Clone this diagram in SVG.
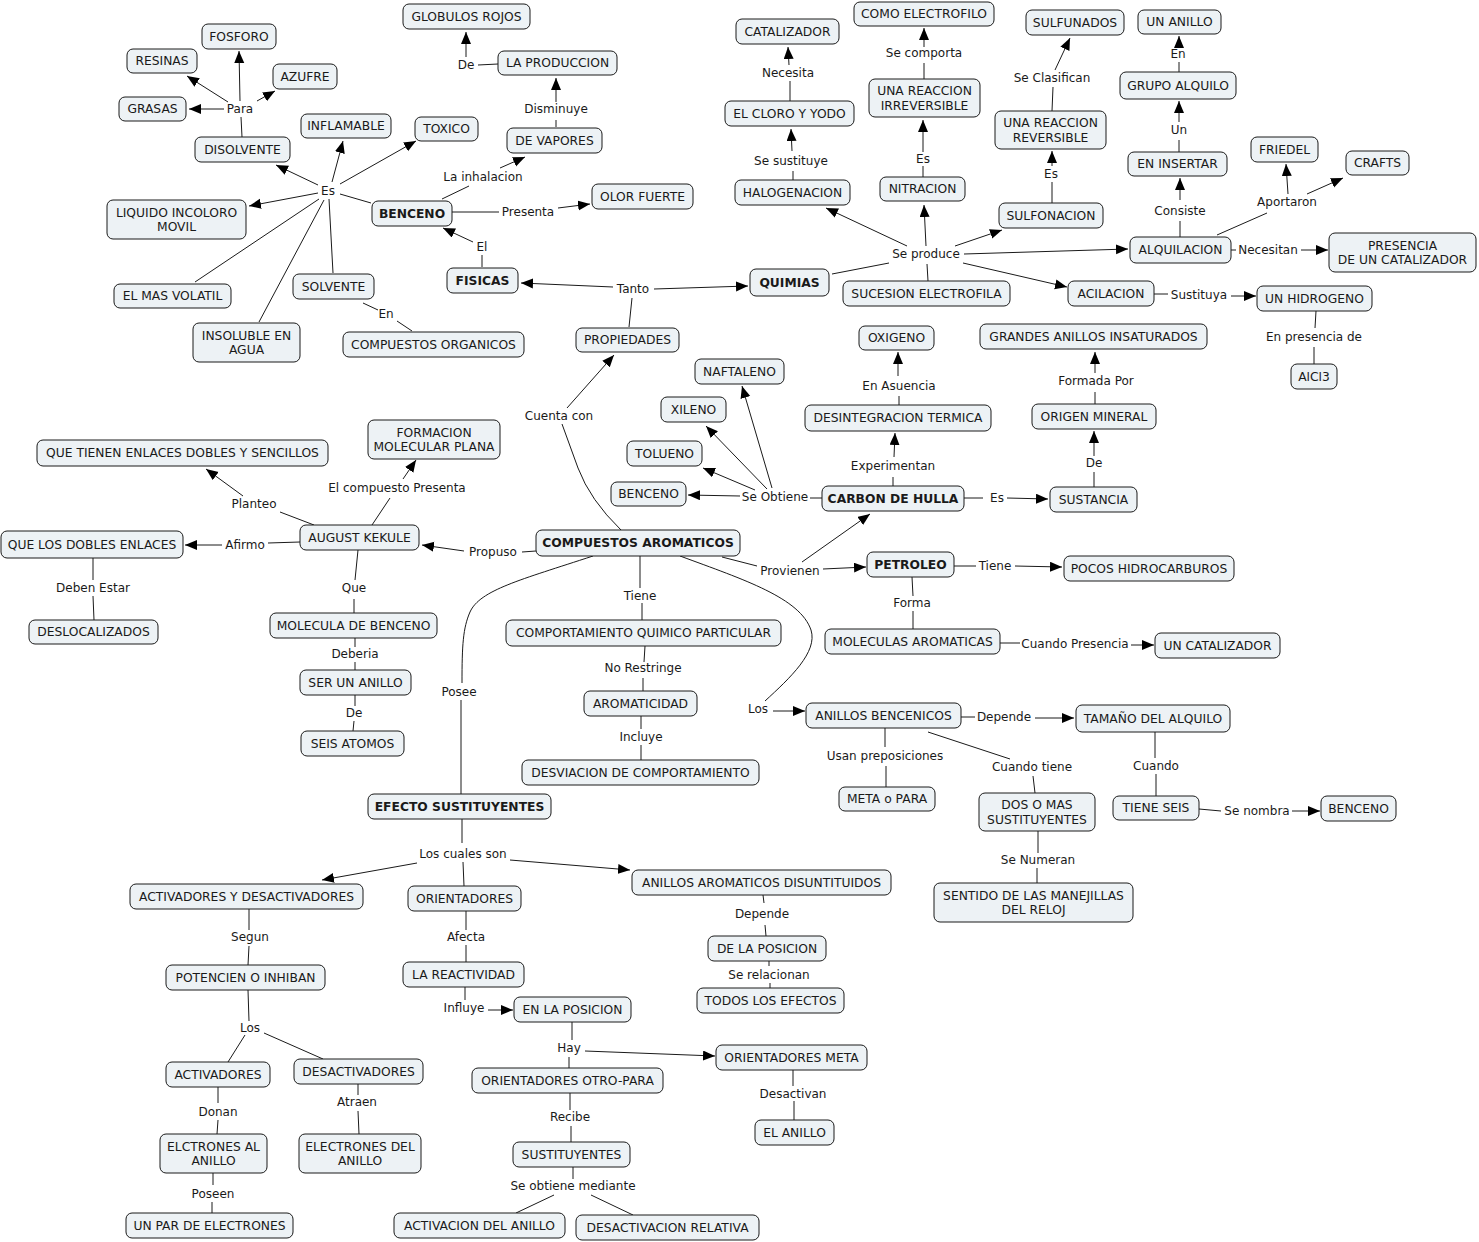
<svg xmlns="http://www.w3.org/2000/svg" width="1479" height="1242" viewBox="0 0 1479 1242">
<style>
.n rect{fill:#edf2f5;stroke:#1a1a1a;stroke-width:1}
text{font-family:"DejaVu Sans","Liberation Sans",sans-serif;font-size:12px;fill:#1a1a1a;text-anchor:middle}
.n text{font-size:12.3px}
.b text{font-weight:bold}
.c line,.c path{stroke:#1a1a1a;stroke-width:1;fill:none}
.c .a{marker-end:url(#ah)}
</style>
<defs>
<marker id="ah" markerUnits="userSpaceOnUse" markerWidth="13" markerHeight="11" refX="12" refY="5" orient="auto"><path d="M0,0 L12,5 L0,10 z" fill="#000"/></marker>
</defs>
<rect width="1479" height="1242" fill="#fff"/>
<g id="connectors" class="c">
<line x1="242" y1="137" x2="241" y2="117"/>
<line class="a" x1="240" y1="101" x2="239" y2="51"/>
<line class="a" x1="228" y1="102" x2="187" y2="76"/>
<line class="a" x1="224" y1="109" x2="189" y2="109"/>
<line class="a" x1="257" y1="101" x2="275" y2="91"/>
<line class="a" x1="318" y1="185" x2="276" y2="165"/>
<line class="a" x1="332" y1="182" x2="343" y2="141"/>
<line class="a" x1="340" y1="184" x2="416" y2="141"/>
<line class="a" x1="318" y1="193" x2="249" y2="206"/>
<line x1="319" y1="199" x2="195" y2="282"/>
<line x1="324" y1="200" x2="259" y2="322"/>
<line x1="329" y1="199" x2="333" y2="273"/>
<line x1="371" y1="203" x2="340" y2="194"/>
<line x1="363" y1="303" x2="378" y2="310"/>
<line x1="397" y1="321" x2="412" y2="331"/>
<line x1="442" y1="199" x2="469" y2="186"/>
<line class="a" x1="500" y1="168" x2="525" y2="157"/>
<line x1="556" y1="127" x2="556" y2="120"/>
<line class="a" x1="556" y1="102" x2="556" y2="78"/>
<line x1="498" y1="64" x2="478" y2="65"/>
<line class="a" x1="466" y1="57" x2="466" y2="32"/>
<line x1="452" y1="212" x2="499" y2="212"/>
<line class="a" x1="558" y1="208" x2="590" y2="204"/>
<line x1="482" y1="267" x2="482" y2="255"/>
<line class="a" x1="473" y1="242" x2="443" y2="228"/>
<line class="a" x1="613" y1="287" x2="521" y2="283"/>
<line class="a" x1="654" y1="289" x2="748" y2="286"/>
<line x1="629" y1="327" x2="632" y2="298"/>
<line x1="832" y1="274" x2="889" y2="263"/>
<line class="a" x1="907" y1="246" x2="826" y2="208"/>
<line class="a" x1="926" y1="246" x2="924" y2="205"/>
<line class="a" x1="955" y1="246" x2="1002" y2="230"/>
<line class="a" x1="964" y1="254" x2="1128" y2="249"/>
<line class="a" x1="963" y1="263" x2="1067" y2="287"/>
<line x1="927" y1="264" x2="928" y2="281"/>
<line x1="793" y1="180" x2="793" y2="171"/>
<line class="a" x1="792" y1="151" x2="791" y2="129"/>
<line x1="790" y1="101" x2="790" y2="81"/>
<line class="a" x1="789" y1="65" x2="788" y2="47"/>
<line x1="923" y1="177" x2="923" y2="166"/>
<line class="a" x1="923" y1="152" x2="923" y2="120"/>
<line x1="924" y1="79" x2="924" y2="63"/>
<line class="a" x1="924" y1="47" x2="924" y2="28"/>
<line x1="1052" y1="203" x2="1052" y2="182"/>
<line class="a" x1="1052" y1="166" x2="1052" y2="151"/>
<line x1="1052" y1="111" x2="1053" y2="87"/>
<line class="a" x1="1055" y1="70" x2="1070" y2="38"/>
<line x1="1180" y1="237" x2="1180" y2="221"/>
<line class="a" x1="1180" y1="200" x2="1180" y2="178"/>
<line x1="1179" y1="152" x2="1179" y2="140"/>
<line class="a" x1="1179" y1="122" x2="1179" y2="101"/>
<line x1="1179" y1="72" x2="1179" y2="62"/>
<line class="a" x1="1179" y1="47" x2="1179" y2="36"/>
<line x1="1217" y1="235" x2="1267" y2="213"/>
<line class="a" x1="1288" y1="194" x2="1286" y2="164"/>
<line class="a" x1="1307" y1="194" x2="1343" y2="178"/>
<line x1="1231" y1="250" x2="1236" y2="250"/>
<line class="a" x1="1301" y1="250" x2="1328" y2="250"/>
<line x1="1154" y1="294" x2="1168" y2="294"/>
<line class="a" x1="1231" y1="296" x2="1256" y2="296"/>
<line x1="1316" y1="311" x2="1315" y2="328"/>
<line x1="1314" y1="347" x2="1314" y2="364"/>
<line x1="822" y1="498" x2="810" y2="498"/>
<line class="a" x1="740" y1="496" x2="688" y2="495"/>
<line class="a" x1="755" y1="490" x2="703" y2="468"/>
<line class="a" x1="767" y1="489" x2="706" y2="426"/>
<line class="a" x1="772" y1="488" x2="742" y2="386"/>
<line x1="893" y1="486" x2="893" y2="477"/>
<line class="a" x1="894" y1="457" x2="895" y2="433"/>
<line x1="899" y1="405" x2="899" y2="396"/>
<line class="a" x1="898" y1="376" x2="898" y2="352"/>
<line x1="964" y1="498" x2="983" y2="498"/>
<line class="a" x1="1007" y1="498" x2="1048" y2="499"/>
<line x1="1094" y1="487" x2="1094" y2="472"/>
<line class="a" x1="1094" y1="456" x2="1094" y2="431"/>
<line x1="1095" y1="404" x2="1095" y2="392"/>
<line class="a" x1="1095" y1="373" x2="1095" y2="352"/>
<line x1="954" y1="566" x2="976" y2="566"/>
<line class="a" x1="1015" y1="566" x2="1062" y2="567"/>
<line x1="912" y1="577" x2="913" y2="596"/>
<line x1="913" y1="611" x2="913" y2="629"/>
<line x1="1000" y1="643" x2="1020" y2="643"/>
<line class="a" x1="1131" y1="645" x2="1154" y2="645"/>
<line x1="961" y1="717" x2="975" y2="717"/>
<line class="a" x1="1035" y1="718" x2="1074" y2="718"/>
<line x1="885" y1="728" x2="885" y2="747"/>
<line x1="886" y1="766" x2="886" y2="787"/>
<line x1="928" y1="732" x2="1010" y2="759"/>
<line x1="1033" y1="776" x2="1035" y2="793"/>
<line x1="1155" y1="732" x2="1155" y2="758"/>
<line x1="1156" y1="774" x2="1156" y2="796"/>
<line x1="1199" y1="809" x2="1221" y2="811"/>
<line class="a" x1="1292" y1="811" x2="1320" y2="811"/>
<line x1="1038" y1="831" x2="1038" y2="853"/>
<line x1="1037" y1="868" x2="1037" y2="883"/>
<line x1="536" y1="551" x2="522" y2="552"/>
<line class="a" x1="464" y1="551" x2="422" y2="545"/>
<line x1="372" y1="525" x2="390" y2="498"/>
<line class="a" x1="403" y1="479" x2="416" y2="460"/>
<line x1="314" y1="525" x2="280" y2="512"/>
<line class="a" x1="243" y1="496" x2="206" y2="469"/>
<line x1="300" y1="542" x2="268" y2="543"/>
<line class="a" x1="222" y1="545" x2="185" y2="545"/>
<line x1="93" y1="558" x2="93" y2="580"/>
<line x1="93" y1="596" x2="94" y2="620"/>
<line x1="358" y1="550" x2="355" y2="580"/>
<line x1="354" y1="599" x2="354" y2="613"/>
<line x1="355" y1="638" x2="355" y2="647"/>
<line x1="355" y1="662" x2="355" y2="670"/>
<line x1="355" y1="695" x2="355" y2="706"/>
<line x1="354" y1="721" x2="353" y2="731"/>
<line x1="640" y1="556" x2="640" y2="588"/>
<line x1="642" y1="603" x2="642" y2="620"/>
<line x1="645" y1="646" x2="644" y2="662"/>
<line x1="643" y1="678" x2="643" y2="691"/>
<line x1="641" y1="716" x2="641" y2="729"/>
<line x1="641" y1="745" x2="641" y2="760"/>
<path d="M621,530 Q590,500 578,468 L562,424"/>
<line class="a" x1="567" y1="408" x2="614" y2="355"/>
<path d="M593,556 C520,580 480,590 470,612 C463,628 462,645 462,683"/>
<line x1="461" y1="700" x2="461" y2="794"/>
<path d="M680,556 C745,580 800,598 811,630 C818,652 790,678 765,701"/>
<line class="a" x1="773" y1="711" x2="805" y2="711"/>
<line x1="722" y1="557" x2="757" y2="566"/>
<line class="a" x1="802" y1="562" x2="870" y2="514"/>
<line class="a" x1="823" y1="569" x2="866" y2="567"/>
<line x1="462" y1="819" x2="462" y2="843"/>
<line class="a" x1="417" y1="863" x2="322" y2="880"/>
<line x1="463" y1="862" x2="464" y2="886"/>
<line class="a" x1="510" y1="860" x2="630" y2="870"/>
<line x1="763" y1="895" x2="764" y2="903"/>
<line x1="765" y1="925" x2="766" y2="936"/>
<line x1="769" y1="961" x2="769" y2="966"/>
<line x1="770" y1="983" x2="770" y2="988"/>
<line x1="249" y1="909" x2="249" y2="930"/>
<line x1="249" y1="946" x2="248" y2="965"/>
<line x1="248" y1="990" x2="249" y2="1021"/>
<line x1="245" y1="1035" x2="228" y2="1062"/>
<line x1="264" y1="1033" x2="323" y2="1059"/>
<line x1="218" y1="1087" x2="218" y2="1103"/>
<line x1="218" y1="1120" x2="217" y2="1134"/>
<line x1="358" y1="1084" x2="358" y2="1095"/>
<line x1="358" y1="1111" x2="359" y2="1134"/>
<line x1="213" y1="1173" x2="213" y2="1185"/>
<line x1="212" y1="1202" x2="212" y2="1213"/>
<line x1="466" y1="911" x2="466" y2="930"/>
<line x1="466" y1="945" x2="466" y2="962"/>
<line x1="465" y1="987" x2="465" y2="1000"/>
<line class="a" x1="488" y1="1010" x2="513" y2="1010"/>
<line x1="572" y1="1022" x2="572" y2="1040"/>
<line class="a" x1="585" y1="1051" x2="715" y2="1056"/>
<line x1="569" y1="1057" x2="569" y2="1068"/>
<line x1="570" y1="1093" x2="570" y2="1110"/>
<line x1="571" y1="1126" x2="571" y2="1142"/>
<line x1="573" y1="1167" x2="573" y2="1179"/>
<line x1="554" y1="1195" x2="516" y2="1213"/>
<line x1="591" y1="1195" x2="633" y2="1215"/>
<line x1="793" y1="1070" x2="793" y2="1086"/>
<line x1="794" y1="1101" x2="794" y2="1120"/>
</g>
<g id="link-labels">
<text x="240" y="113">Para</text>
<text x="328" y="195">Es</text>
<text x="386" y="318">En</text>
<text x="483" y="181">La inhalacion</text>
<text x="556" y="113">Disminuye</text>
<text x="466" y="69">De</text>
<text x="528" y="216">Presenta</text>
<text x="482" y="251">El</text>
<text x="633" y="293">Tanto</text>
<text x="926" y="258">Se produce</text>
<text x="791" y="165">Se sustituye</text>
<text x="788" y="77">Necesita</text>
<text x="923" y="163">Es</text>
<text x="924" y="57">Se comporta</text>
<text x="1051" y="178">Es</text>
<text x="1052" y="82">Se Clasifican</text>
<text x="1180" y="215">Consiste</text>
<text x="1179" y="134">Un</text>
<text x="1178" y="58">En</text>
<text x="1287" y="206">Aportaron</text>
<text x="1268" y="254">Necesitan</text>
<text x="1199" y="299">Sustituya</text>
<text x="1314" y="341">En presencia de</text>
<text x="775" y="501">Se Obtiene</text>
<text x="893" y="470">Experimentan</text>
<text x="899" y="390">En Asuencia</text>
<text x="997" y="502">Es</text>
<text x="1094" y="467">De</text>
<text x="1096" y="385">Formada Por</text>
<text x="995" y="570">Tiene</text>
<text x="912" y="607">Forma</text>
<text x="1075" y="648">Cuando Presencia</text>
<text x="1004" y="721">Depende</text>
<text x="885" y="760">Usan preposiciones</text>
<text x="1032" y="771">Cuando tiene</text>
<text x="1156" y="770">Cuando</text>
<text x="1257" y="815">Se nombra</text>
<text x="1038" y="864">Se Numeran</text>
<text x="493" y="556">Propuso</text>
<text x="397" y="492">El compuesto Presenta</text>
<text x="254" y="508">Planteo</text>
<text x="245" y="549">Afirmo</text>
<text x="93" y="592">Deben Estar</text>
<text x="354" y="592">Que</text>
<text x="355" y="658">Deberia</text>
<text x="354" y="717">De</text>
<text x="640" y="600">Tiene</text>
<text x="643" y="672">No Restringe</text>
<text x="641" y="741">Incluye</text>
<text x="559" y="420">Cuenta con</text>
<text x="459" y="696">Posee</text>
<text x="790" y="575">Provienen</text>
<text x="758" y="713">Los</text>
<text x="463" y="858">Los cuales son</text>
<text x="762" y="918">Depende</text>
<text x="769" y="979">Se relacionan</text>
<text x="250" y="941">Segun</text>
<text x="250" y="1032">Los</text>
<text x="218" y="1116">Donan</text>
<text x="357" y="1106">Atraen</text>
<text x="213" y="1198">Poseen</text>
<text x="466" y="941">Afecta</text>
<text x="464" y="1012">Influye</text>
<text x="569" y="1052">Hay</text>
<text x="570" y="1121">Recibe</text>
<text x="573" y="1190">Se obtiene mediante</text>
<text x="793" y="1098">Desactivan</text>
</g>
<g id="n1" class="n"><rect x="202" y="24" width="74" height="25" rx="6"/><text x="239" y="40.5">FOSFORO</text></g>
<g id="n2" class="n"><rect x="127" y="49" width="70" height="24" rx="6"/><text x="162" y="65">RESINAS</text></g>
<g id="n3" class="n"><rect x="273" y="64" width="64" height="25" rx="6"/><text x="305" y="80.5">AZUFRE</text></g>
<g id="n4" class="n"><rect x="119" y="97" width="67" height="24" rx="6"/><text x="152.5" y="113">GRASAS</text></g>
<g id="n5" class="n"><rect x="195" y="137" width="95" height="25" rx="6"/><text x="242.5" y="153.5">DISOLVENTE</text></g>
<g id="n6" class="n"><rect x="301" y="114" width="90" height="24" rx="6"/><text x="346" y="130">INFLAMABLE</text></g>
<g id="n7" class="n"><rect x="415" y="117" width="63" height="24" rx="6"/><text x="446.5" y="133">TOXICO</text></g>
<g id="n8" class="n"><rect x="107" y="200" width="139" height="39" rx="6"/><text x="176.5" y="216.5">LIQUIDO INCOLORO</text><text x="176.5" y="231">MOVIL</text></g>
<g id="n9" class="n"><rect x="114" y="284" width="117" height="24" rx="6"/><text x="172.5" y="300">EL MAS VOLATIL</text></g>
<g id="n10" class="n"><rect x="293" y="274" width="81" height="25" rx="6"/><text x="333.5" y="290.5">SOLVENTE</text></g>
<g id="n11" class="n"><rect x="193" y="323" width="107" height="39" rx="6"/><text x="246.5" y="339.5">INSOLUBLE EN</text><text x="246.5" y="354">AGUA</text></g>
<g id="n12" class="n"><rect x="343" y="332" width="181" height="25" rx="6"/><text x="433.5" y="348.5">COMPUESTOS ORGANICOS</text></g>
<g id="n13" class="n"><rect x="403" y="4" width="127" height="25" rx="6"/><text x="466.5" y="20.5">GLOBULOS ROJOS</text></g>
<g id="n14" class="n"><rect x="498" y="51" width="119" height="24" rx="6"/><text x="557.5" y="67">LA PRODUCCION</text></g>
<g id="n15" class="n"><rect x="507" y="128" width="95" height="25" rx="6"/><text x="554.5" y="144.5">DE VAPORES</text></g>
<g id="n16" class="n b"><rect x="372" y="201" width="80" height="25" rx="6"/><text x="412" y="217.5">BENCENO</text></g>
<g id="n17" class="n"><rect x="592" y="184" width="101" height="25" rx="6"/><text x="642.5" y="200.5">OLOR FUERTE</text></g>
<g id="n18" class="n b"><rect x="447" y="268" width="71" height="25" rx="6"/><text x="482.5" y="284.5">FISICAS</text></g>
<g id="n19" class="n"><rect x="576" y="328" width="103" height="24" rx="6"/><text x="627.5" y="344">PROPIEDADES</text></g>
<g id="n20" class="n"><rect x="854" y="2" width="140" height="24" rx="6"/><text x="924" y="18">COMO ELECTROFILO</text></g>
<g id="n21" class="n"><rect x="736" y="19" width="103" height="25" rx="6"/><text x="787.5" y="35.5">CATALIZADOR</text></g>
<g id="n22" class="n"><rect x="1026" y="10" width="98" height="25" rx="6"/><text x="1075" y="26.5">SULFUNADOS</text></g>
<g id="n23" class="n"><rect x="869" y="79" width="111" height="38" rx="6"/><text x="924.5" y="95">UNA REACCION</text><text x="924.5" y="109.5">IRREVERSIBLE</text></g>
<g id="n24" class="n"><rect x="725" y="101" width="129" height="25" rx="6"/><text x="789.5" y="117.5">EL CLORO Y YODO</text></g>
<g id="n25" class="n"><rect x="995" y="111" width="111" height="38" rx="6"/><text x="1050.5" y="127">UNA REACCION</text><text x="1050.5" y="141.5">REVERSIBLE</text></g>
<g id="n26" class="n"><rect x="735" y="180" width="115" height="25" rx="6"/><text x="792.5" y="196.5">HALOGENACION</text></g>
<g id="n27" class="n"><rect x="880" y="177" width="85" height="24" rx="6"/><text x="922.5" y="193">NITRACION</text></g>
<g id="n28" class="n"><rect x="999" y="203" width="104" height="25" rx="6"/><text x="1051" y="219.5">SULFONACION</text></g>
<g id="n29" class="n b"><rect x="750" y="269" width="79" height="27" rx="6"/><text x="789.5" y="286.5">QUIMIAS</text></g>
<g id="n30" class="n"><rect x="843" y="281" width="167" height="25" rx="6"/><text x="926.5" y="297.5">SUCESION ELECTROFILA</text></g>
<g id="n31" class="n"><rect x="1068" y="281" width="86" height="25" rx="6"/><text x="1111" y="297.5">ACILACION</text></g>
<g id="n32" class="n"><rect x="859" y="326" width="75" height="24" rx="6"/><text x="896.5" y="342">OXIGENO</text></g>
<g id="n33" class="n"><rect x="980" y="324" width="227" height="25" rx="6"/><text x="1093.5" y="340.5">GRANDES ANILLOS INSATURADOS</text></g>
<g id="n34" class="n"><rect x="695" y="359" width="89" height="25" rx="6"/><text x="739.5" y="375.5">NAFTALENO</text></g>
<g id="n35" class="n"><rect x="661" y="397" width="65" height="25" rx="6"/><text x="693.5" y="413.5">XILENO</text></g>
<g id="n36" class="n"><rect x="1138" y="10" width="83" height="24" rx="6"/><text x="1179.5" y="26">UN ANILLO</text></g>
<g id="n37" class="n"><rect x="1120" y="72" width="116" height="27" rx="6"/><text x="1178" y="89.5">GRUPO ALQUILO</text></g>
<g id="n38" class="n"><rect x="1128" y="152" width="99" height="24" rx="6"/><text x="1177.5" y="168">EN INSERTAR</text></g>
<g id="n39" class="n"><rect x="1251" y="137" width="67" height="25" rx="6"/><text x="1284.5" y="153.5">FRIEDEL</text></g>
<g id="n40" class="n"><rect x="1346" y="151" width="63" height="24" rx="6"/><text x="1377.5" y="167">CRAFTS</text></g>
<g id="n41" class="n"><rect x="1130" y="237" width="101" height="26" rx="6"/><text x="1180.5" y="254">ALQUILACION</text></g>
<g id="n42" class="n"><rect x="1329" y="233" width="147" height="39" rx="6"/><text x="1402.5" y="249.5">PRESENCIA</text><text x="1402.5" y="264">DE UN CATALIZADOR</text></g>
<g id="n43" class="n"><rect x="1257" y="286" width="115" height="25" rx="6"/><text x="1314.5" y="302.5">UN HIDROGENO</text></g>
<g id="n44" class="n"><rect x="1291" y="364" width="46" height="25" rx="6"/><text x="1314" y="380.5">AlCl3</text></g>
<g id="n45" class="n"><rect x="37" y="440" width="291" height="26" rx="6"/><text x="182.5" y="457">QUE TIENEN ENLACES DOBLES Y SENCILLOS</text></g>
<g id="n46" class="n"><rect x="300" y="525" width="119" height="25" rx="6"/><text x="359.5" y="541.5">AUGUST KEKULE</text></g>
<g id="n47" class="n"><rect x="1" y="531" width="182" height="27" rx="6"/><text x="92" y="548.5">QUE LOS DOBLES ENLACES</text></g>
<g id="n48" class="n"><rect x="29" y="620" width="129" height="24" rx="6"/><text x="93.5" y="636">DESLOCALIZADOS</text></g>
<g id="n49" class="n"><rect x="270" y="613" width="167" height="25" rx="6"/><text x="353.5" y="629.5">MOLECULA DE BENCENO</text></g>
<g id="n50" class="n"><rect x="300" y="670" width="111" height="25" rx="6"/><text x="355.5" y="686.5">SER UN ANILLO</text></g>
<g id="n51" class="n"><rect x="301" y="731" width="103" height="25" rx="6"/><text x="352.5" y="747.5">SEIS ATOMOS</text></g>
<g id="n52" class="n"><rect x="368" y="420" width="132" height="39" rx="6"/><text x="434" y="436.5">FORMACION</text><text x="434" y="451">MOLECULAR PLANA</text></g>
<g id="n53" class="n"><rect x="627" y="441" width="75" height="25" rx="6"/><text x="664.5" y="457.5">TOLUENO</text></g>
<g id="n54" class="n"><rect x="611" y="482" width="75" height="24" rx="6"/><text x="648.5" y="498">BENCENO</text></g>
<g id="n55" class="n b"><rect x="536" y="530" width="204" height="26" rx="6"/><text x="638" y="547">COMPUESTOS AROMATICOS</text></g>
<g id="n56" class="n"><rect x="506" y="620" width="275" height="26" rx="6"/><text x="643.5" y="637">COMPORTAMIENTO QUIMICO PARTICULAR</text></g>
<g id="n57" class="n"><rect x="584" y="691" width="113" height="25" rx="6"/><text x="640.5" y="707.5">AROMATICIDAD</text></g>
<g id="n58" class="n"><rect x="522" y="760" width="237" height="25" rx="6"/><text x="640.5" y="776.5">DESVIACION DE COMPORTAMIENTO</text></g>
<g id="n59" class="n b"><rect x="368" y="794" width="183" height="25" rx="6"/><text x="459.5" y="810.5">EFECTO SUSTITUYENTES</text></g>
<g id="n60" class="n"><rect x="805" y="405" width="186" height="26" rx="6"/><text x="898" y="422">DESINTEGRACION TERMICA</text></g>
<g id="n61" class="n"><rect x="1032" y="404" width="124" height="25" rx="6"/><text x="1094" y="420.5">ORIGEN MINERAL</text></g>
<g id="n62" class="n b"><rect x="822" y="486" width="142" height="25" rx="6"/><text x="893" y="502.5">CARBON DE HULLA</text></g>
<g id="n63" class="n"><rect x="1050" y="487" width="87" height="25" rx="6"/><text x="1093.5" y="503.5">SUSTANCIA</text></g>
<g id="n64" class="n b"><rect x="867" y="552" width="87" height="25" rx="6"/><text x="910.5" y="568.5">PETROLEO</text></g>
<g id="n65" class="n"><rect x="1064" y="556" width="170" height="25" rx="6"/><text x="1149" y="572.5">POCOS HIDROCARBUROS</text></g>
<g id="n66" class="n"><rect x="825" y="629" width="175" height="25" rx="6"/><text x="912.5" y="645.5">MOLECULAS AROMATICAS</text></g>
<g id="n67" class="n"><rect x="1155" y="633" width="125" height="25" rx="6"/><text x="1217.5" y="649.5">UN CATALIZADOR</text></g>
<g id="n68" class="n"><rect x="806" y="703" width="155" height="25" rx="6"/><text x="883.5" y="719.5">ANILLOS BENCENICOS</text></g>
<g id="n69" class="n"><rect x="1076" y="705" width="154" height="27" rx="6"/><text x="1153" y="722.5">TAMAÑO DEL ALQUILO</text></g>
<g id="n70" class="n"><rect x="839" y="787" width="96" height="24" rx="6"/><text x="887" y="803">META o PARA</text></g>
<g id="n71" class="n"><rect x="979" y="793" width="116" height="38" rx="6"/><text x="1037" y="809">DOS O MAS</text><text x="1037" y="823.5">SUSTITUYENTES</text></g>
<g id="n72" class="n"><rect x="1113" y="796" width="86" height="24" rx="6"/><text x="1156" y="812">TIENE SEIS</text></g>
<g id="n73" class="n"><rect x="1321" y="796" width="75" height="25" rx="6"/><text x="1358.5" y="812.5">BENCENO</text></g>
<g id="n74" class="n"><rect x="934" y="883" width="199" height="39" rx="6"/><text x="1033.5" y="899.5">SENTIDO DE LAS MANEJILLAS</text><text x="1033.5" y="914">DEL RELOJ</text></g>
<g id="n75" class="n"><rect x="130" y="884" width="233" height="25" rx="6"/><text x="246.5" y="900.5">ACTIVADORES Y DESACTIVADORES</text></g>
<g id="n76" class="n"><rect x="166" y="965" width="159" height="25" rx="6"/><text x="245.5" y="981.5">POTENCIEN O INHIBAN</text></g>
<g id="n77" class="n"><rect x="166" y="1062" width="104" height="25" rx="6"/><text x="218" y="1078.5">ACTIVADORES</text></g>
<g id="n78" class="n"><rect x="294" y="1059" width="129" height="25" rx="6"/><text x="358.5" y="1075.5">DESACTIVADORES</text></g>
<g id="n79" class="n"><rect x="160" y="1134" width="107" height="39" rx="6"/><text x="213.5" y="1150.5">ELCTRONES AL</text><text x="213.5" y="1165">ANILLO</text></g>
<g id="n80" class="n"><rect x="299" y="1134" width="122" height="39" rx="6"/><text x="360" y="1150.5">ELECTRONES DEL</text><text x="360" y="1165">ANILLO</text></g>
<g id="n81" class="n"><rect x="126" y="1213" width="167" height="25" rx="6"/><text x="209.5" y="1229.5">UN PAR DE ELECTRONES</text></g>
<g id="n82" class="n"><rect x="408" y="886" width="113" height="25" rx="6"/><text x="464.5" y="902.5">ORIENTADORES</text></g>
<g id="n83" class="n"><rect x="632" y="870" width="259" height="25" rx="6"/><text x="761.5" y="886.5">ANILLOS AROMATICOS DISUNTITUIDOS</text></g>
<g id="n84" class="n"><rect x="403" y="962" width="121" height="25" rx="6"/><text x="463.5" y="978.5">LA REACTIVIDAD</text></g>
<g id="n85" class="n"><rect x="514" y="997" width="117" height="25" rx="6"/><text x="572.5" y="1013.5">EN LA POSICION</text></g>
<g id="n86" class="n"><rect x="472" y="1068" width="191" height="25" rx="6"/><text x="567.5" y="1084.5">ORIENTADORES OTRO-PARA</text></g>
<g id="n87" class="n"><rect x="716" y="1045" width="151" height="25" rx="6"/><text x="791.5" y="1061.5">ORIENTADORES META</text></g>
<g id="n88" class="n"><rect x="513" y="1142" width="117" height="25" rx="6"/><text x="571.5" y="1158.5">SUSTITUYENTES</text></g>
<g id="n89" class="n"><rect x="394" y="1213" width="171" height="25" rx="6"/><text x="479.5" y="1229.5">ACTIVACION DEL ANILLO</text></g>
<g id="n90" class="n"><rect x="576" y="1215" width="183" height="25" rx="6"/><text x="667.5" y="1231.5">DESACTIVACION RELATIVA</text></g>
<g id="n91" class="n"><rect x="708" y="936" width="118" height="25" rx="6"/><text x="767" y="952.5">DE LA POSICION</text></g>
<g id="n92" class="n"><rect x="697" y="988" width="147" height="25" rx="6"/><text x="770.5" y="1004.5">TODOS LOS EFECTOS</text></g>
<g id="n93" class="n"><rect x="755" y="1120" width="79" height="25" rx="6"/><text x="794.5" y="1136.5">EL ANILLO</text></g>
</svg>
